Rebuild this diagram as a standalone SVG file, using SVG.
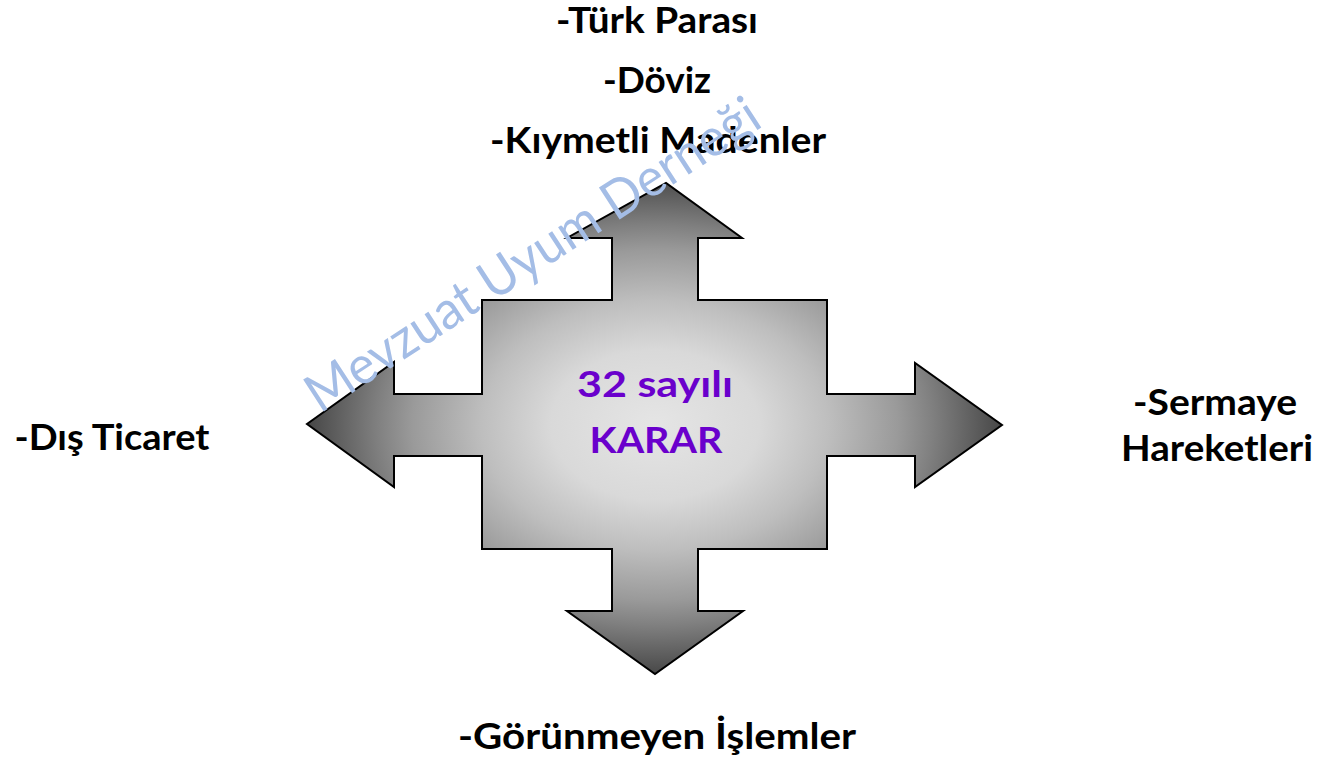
<svg xmlns="http://www.w3.org/2000/svg" width="1317" height="758" viewBox="0 0 1317 758">
  <style>
    .lbl { font-family: Lato, "Liberation Sans", sans-serif; font-weight: 700; font-size: 36px; fill: #000; text-anchor: middle; }
    .ctr { font-family: Lato, "Liberation Sans", sans-serif; font-weight: 700; font-size: 37px; fill: #6a00cc; text-anchor: middle; }
    .wm { font-family: Lato, "Liberation Sans", sans-serif; font-weight: 400; font-size: 53px; fill: #a4bde6; }
  </style>
  <defs>
    <radialGradient id="g" gradientUnits="userSpaceOnUse" cx="655" cy="425" r="347" gradientTransform="translate(655 425) scale(1 0.72) translate(-655 -425)">
      <stop offset="0" stop-color="#e5e5e5"/>
      <stop offset="0.3" stop-color="#d9d9d9"/>
      <stop offset="0.5" stop-color="#bebebe"/>
      <stop offset="0.7" stop-color="#9a9a9a"/>
      <stop offset="0.8" stop-color="#808080"/>
      <stop offset="1" stop-color="#474747"/>
    </radialGradient>
  </defs>
  <rect width="1317" height="758" fill="#ffffff"/>
  <g id="quad-arrow">
    <path d="M482,300 L612,300 L612,238 L567,238 L666,183 L742,238 L698,238 L698,300 L827,300 L827,394 L915,394 L915,363 L1002,425 L915,487 L915,456 L827,456 L827,549 L698,549 L698,611 L743,611 L655,674 L567,611 L612,611 L612,549 L482,549 L482,456 L394,456 L394,487 L307,424 L394,362 L394,394 L482,394 Z" fill="url(#g)" stroke="#000" stroke-width="2" stroke-linejoin="miter"/>
    <text class="ctr" x="655" y="397" textLength="156" lengthAdjust="spacingAndGlyphs">32 sayılı</text>
    <text class="ctr" x="656" y="453" textLength="133" lengthAdjust="spacingAndGlyphs">KARAR</text>
  </g>
  <g id="connectors"></g>
  <g id="label-top">
    <text class="lbl" x="657" y="33" textLength="202" lengthAdjust="spacingAndGlyphs">-Türk Parası</text>
    <text class="lbl" x="657" y="93" textLength="108" lengthAdjust="spacingAndGlyphs">-Döviz</text>
    <text class="lbl" x="658" y="153" textLength="336" lengthAdjust="spacingAndGlyphs">-Kıymetli Madenler</text>
  </g>
  <g id="label-left">
    <text class="lbl" x="112" y="450" textLength="195" lengthAdjust="spacingAndGlyphs">-Dış Ticaret</text>
  </g>
  <g id="label-right">
    <text class="lbl" x="1215" y="415" textLength="164" lengthAdjust="spacingAndGlyphs">-Sermaye</text>
    <text class="lbl" x="1217" y="461" textLength="192" lengthAdjust="spacingAndGlyphs">Hareketleri</text>
  </g>
  <g id="label-bottom">
    <text class="lbl" x="657" y="749" textLength="398" lengthAdjust="spacingAndGlyphs">-Görünmeyen İşlemler</text>
  </g>
  <g id="watermark">
    <text class="wm" x="320" y="414" transform="rotate(-33 320 414)" textLength="530" lengthAdjust="spacingAndGlyphs">Mevzuat Uyum Derneği</text>
  </g>
</svg>
